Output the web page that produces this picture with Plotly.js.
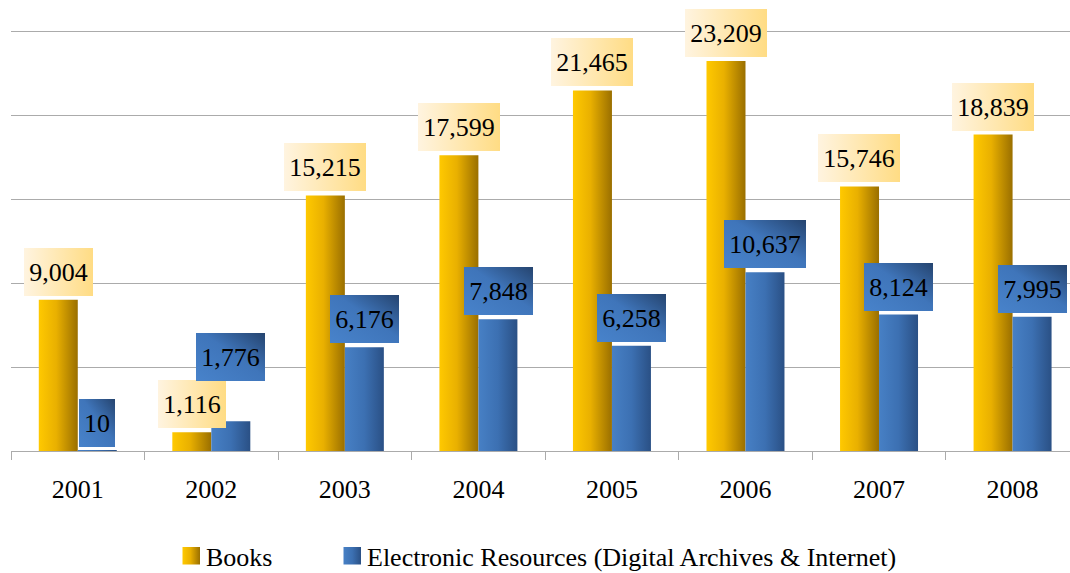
<!DOCTYPE html>
<html>
<head>
<meta charset="utf-8">
<script src="https://cdn.plot.ly/plotly-3.0.1.min.js"></script>
<style>
  html, body { margin: 0; padding: 0; background: #fff; }
  #chart { width: 1070px; height: 573px; }
</style>
</head>
<body>
<div id="chart"></div>
<script>
// ---- data ----
const years = ['2001', '2002', '2003', '2004', '2005', '2006', '2007', '2008'];
const books = [9004, 1116, 15215, 17599, 21465, 23209, 15746, 18839];
const electronic = [10, 1776, 6176, 7848, 6258, 10637, 8124, 7995];
const seriesNames = ['Books', 'Electronic Resources (Digital Archives & Internet)'];

// ---- style ----
const FONT = 'Liberation Serif';
const GRID = '#ABABAB';
const barHalfShift = 19.6;
const labelGap = 4;
const extraLift = { 'electronic-2002': 36 };

const fmt = v => v.toLocaleString('en-US');
const ctx = document.createElement('canvas').getContext('2d');
ctx.font = '26px "Liberation Serif"';
const textW = s => ctx.measureText(s).width;

const traces = [
  { type: 'bar', name: seriesNames[0], x: years, y: books, marker: { color: '#E8B000' }, legend: 'legend' },
  { type: 'bar', name: seriesNames[1], x: years, y: electronic, marker: { color: '#3A6CB0' }, legend: 'legend2' }
];

const annotations = [];
const annGrad = [];
[['books', books, -barHalfShift, 'gLblBooks'], ['electronic', electronic, barHalfShift, 'gLblElec']].forEach(([key, vals, xs, grad]) => {
  vals.forEach((v, i) => {
    const t = fmt(v);
    annotations.push({
      x: i, y: v, xref: 'x', yref: 'y',   // category index of years[i]
      text: t, showarrow: false,
      xanchor: 'center', yanchor: 'bottom',
      xshift: xs, yshift: labelGap + (extraLift[key + '-' + years[i]] || 0),
      width: Math.round(textW(t)) + 2, height: 40, borderpad: 4, borderwidth: 0,
      bgcolor: key === 'books' ? '#FFE9B0' : '#3E74B9',
      font: { family: FONT, size: 26, color: '#000' }
    });
    annGrad.push(grad);
  });
});

const legendStyle = (xpx) => ({
  orientation: 'h', xref: 'container', yref: 'container',
  x: xpx / 1070, xanchor: 'left', y: 0.071, yanchor: 'top',
  font: { family: FONT, size: 26, color: '#000' },
  bgcolor: 'rgba(0,0,0,0)'
});

const layout = {
  width: 1070, height: 573,
  margin: { l: 10.7, r: 0, t: 30, b: 122 },
  paper_bgcolor: '#fff', plot_bgcolor: '#fff',
  barmode: 'group', bargap: 0.416, bargroupgap: 0,
  font: { family: FONT, color: '#000' },
  xaxis: {
    type: 'category', range: [-0.5, 7.43], fixedrange: true,
    showline: true, linecolor: GRID, linewidth: 1,
    ticks: 'outside', ticklen: 8, tickcolor: GRID, tickwidth: 1,
    tickson: 'boundaries', showgrid: false,
    tickfont: { family: FONT, size: 26, color: '#000' },
    ticklabelstandoff: 15
  },
  yaxis: {
    range: [0, 25060], dtick: 5000, tick0: 0, fixedrange: true,
    showgrid: true, gridcolor: GRID, gridwidth: 1,
    showticklabels: false, ticks: '', zeroline: false, showline: false
  },
  showlegend: true,
  legend: legendStyle(166),
  legend2: legendStyle(327),
  annotations: annotations
};

const gradDefs = `
<linearGradient id="gBarBooks" x1="0" y1="0" x2="1" y2="0">
  <stop offset="0" stop-color="#FFC900"/>
  <stop offset="0.45" stop-color="#E9B000"/>
  <stop offset="1" stop-color="#9A6F00"/>
</linearGradient>
<linearGradient id="gBarElec" x1="0" y1="0" x2="1" y2="0">
  <stop offset="0" stop-color="#4780C5"/>
  <stop offset="0.5" stop-color="#3C70B2"/>
  <stop offset="1" stop-color="#2A5085"/>
</linearGradient>
<linearGradient id="gLblBooks" x1="0" y1="0" x2="1" y2="0">
  <stop offset="0" stop-color="#FFF4E0"/>
  <stop offset="1" stop-color="#FFDC84"/>
</linearGradient>
<linearGradient id="gLblElec" x1="0" y1="1" x2="1" y2="0">
  <stop offset="0" stop-color="#4883CB"/>
  <stop offset="0.55" stop-color="#3F75BA"/>
  <stop offset="1" stop-color="#25446F"/>
</linearGradient>`;

function applyGradients(gd) {
  const svg = gd.querySelector('svg.main-svg');
  if (!svg) return;
  if (!document.getElementById('gBarBooks')) {
    let defs = svg.querySelector('defs');
    if (!defs) { defs = document.createElementNS('http://www.w3.org/2000/svg', 'defs'); svg.insertBefore(defs, svg.firstChild); }
    const tmp = new DOMParser().parseFromString('<svg xmlns="http://www.w3.org/2000/svg">' + gradDefs + '</svg>', 'image/svg+xml');
    Array.from(tmp.documentElement.childNodes).forEach(n => { if (n.nodeType === 1) defs.appendChild(document.importNode(n, true)); });
  }
  const barIds = ['gBarBooks', 'gBarElec'];
  gd.querySelectorAll('.barlayer .trace').forEach((t, i) => {
    t.querySelectorAll('.point path').forEach(p => { p.style.fill = 'url(#' + barIds[i] + ')'; });
  });
  // legend swatches: first legend -> Books, second legend -> Electronic
  gd.querySelectorAll('.legendpoints').forEach((lp, k) => {
    const i = Math.min(k, 1);
    lp.querySelectorAll('path').forEach(p => {
      p.setAttribute('d', 'M14,8.75H-3.5V-8.75H14Z');
      p.style.fill = 'url(#' + barIds[i] + ')';
    });
  });
  gd.querySelectorAll('.annotation').forEach(a => {
    const idx = +a.getAttribute('data-index');
    const r = a.querySelector('rect.bg');
    if (r && annGrad[idx]) { r.style.fill = 'url(#' + annGrad[idx] + ')'; r.style.fillOpacity = 1; }
  });
}

const gd = document.getElementById('chart');
Plotly.newPlot(gd, traces, layout, { displayModeBar: false }).then(() => {
  applyGradients(gd);
  gd.on('plotly_afterplot', () => applyGradients(gd));
});
</script>
</body>
</html>
